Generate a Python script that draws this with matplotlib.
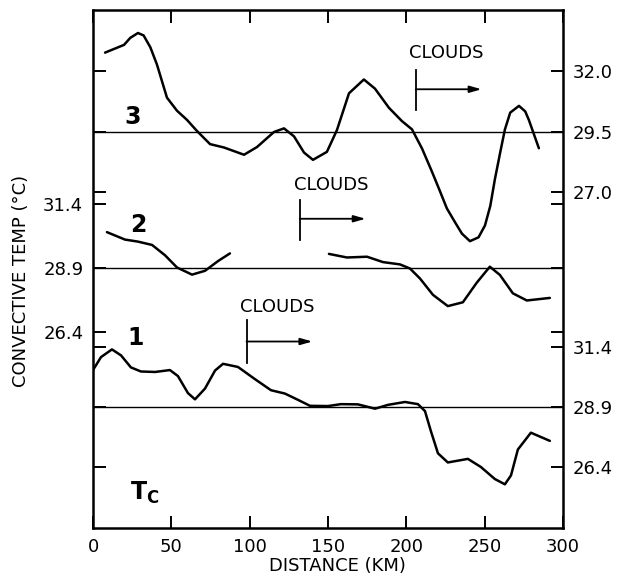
import matplotlib.pyplot as plt
import matplotlib.transforms as mtransforms

# trace 3 (top), baseline 29.5
dist3 = [7.7, 19.8, 23.8, 28.7, 32.3, 36.6, 40.8, 47.2, 53.6, 60.0, 66.4, 74.7,
         83.6, 96.4, 104.7, 115.5, 121.9, 128.3, 134.7, 140.4, 149.3, 155.7,
         163.4, 172.9, 180.0, 188.9, 197.2, 203.6, 210.0, 216.3, 220.8, 225.9,
         231.0, 235.5, 240.6, 246.1, 250.2, 253.6, 256.5, 259.9, 262.9, 266.3,
         271.9, 275.9, 278.2, 282.3, 284.6]
temp3 = [32.76, 33.08, 33.37, 33.57, 33.47, 32.98, 32.27, 30.90, 30.36, 29.98,
         29.52, 28.98, 28.84, 28.54, 28.86, 29.48, 29.63, 29.30, 28.63, 28.33,
         28.66, 29.56, 31.08, 31.65, 31.27, 30.48, 29.93, 29.59, 28.80, 27.85,
         27.14, 26.32, 25.76, 25.28, 24.97, 25.13, 25.62, 26.43, 27.52, 28.63,
         29.58, 30.28, 30.56, 30.33, 29.98, 29.23, 28.81]

# trace 2 (middle), baseline 28.9, two pieces
dist2a = [8.9, 20.4, 28.7, 37.7, 45.9, 53.6, 63.2, 71.5, 79.8, 87.4]
temp2a = [30.30, 30.01, 29.93, 29.80, 29.40, 28.92, 28.64, 28.79, 29.17, 29.47]
dist2b = [150.6, 162.1, 174.9, 185.1, 195.9, 202.3, 208.7, 217.0, 226.5, 236.1,
          245.0, 253.3, 259.7, 268.0, 276.9, 291.6]
temp2b = [29.45, 29.31, 29.34, 29.13, 29.04, 28.88, 28.49, 27.85, 27.41, 27.56,
          28.33, 28.95, 28.63, 27.91, 27.63, 27.73]

# trace 1 (bottom), baseline 28.9
dist1 = [0, 5.1, 12.1, 17.9, 24.2, 30.6, 39.6, 49.1, 54.2, 60.6, 65.1, 71.5,
         77.9, 83.0, 92.5, 103.4, 113.6, 122.5, 130.8, 138.5, 150.0, 158.3,
         169.1, 180.0, 188.3, 199.1, 207.4, 211.9, 215.7, 220.2, 226.5, 239.3,
         247.6, 256.5, 262.9, 266.8, 271.2, 279.5, 291.6]
temp1 = [30.44, 30.98, 31.30, 31.05, 30.55, 30.38, 30.36, 30.44, 30.19, 29.48,
         29.22, 29.67, 30.42, 30.70, 30.57, 30.06, 29.60, 29.46, 29.20, 28.95,
         28.94, 29.02, 29.01, 28.83, 28.99, 29.11, 29.02, 28.73, 27.89, 26.97,
         26.59, 26.74, 26.40, 25.90, 25.68, 26.05, 27.13, 27.83, 27.49]

baselines = {1: 28.9, 2: 28.9, 3: 29.5}
cloud_start = {1: 98, 2: 132, 3: 206}
xticks = [0, 50, 100, 150, 200, 250, 300]

plt.rcParams['font.family'] = ['DejaVu Sans']

fig = plt.figure(figsize=(6.18, 5.79), dpi=100)
rect = [0.1505, 0.0881, 0.7605, 0.8946]
ax1 = fig.add_axes(rect)
ax2 = fig.add_axes(rect)
ax3 = fig.add_axes(rect)

ylims = {1: (23.86, 45.44), 2: (18.74, 38.98), 3: (13.12, 34.52)}
label_side = {1: 'right', 2: 'left', 3: 'right'}

for k, ax in [(1, ax1), (2, ax2), (3, ax3)]:
    ax.set_xlim(0, 300)
    ax.set_ylim(*ylims[k])
    b = baselines[k]
    ax.set_yticks([b - 2.5, b, b + 2.5])
    ax.set_yticklabels([f"{v:.1f}" for v in [b - 2.5, b, b + 2.5]])
    ax.tick_params(axis='y', left=True, right=True, direction='in', length=9,
                   width=1.4, labelsize=13, pad=7,
                   labelleft=label_side[k] == 'left',
                   labelright=label_side[k] == 'right')
    ax.axhline(b, color='black', lw=1.0)
    if k != 1:
        ax.patch.set_visible(False)
        ax.xaxis.set_visible(False)
        for s in ax.spines.values():
            s.set_visible(False)

for s in ax1.spines.values():
    s.set_linewidth(1.8)
ax1.set_xticks(xticks)
ax1.tick_params(axis='x', top=True, bottom=True, direction='in', length=9,
                width=1.4, labelsize=13, pad=7)

line_kw = dict(color='black', lw=1.8, solid_joinstyle='round', solid_capstyle='round')
ax3.plot(dist3, temp3, **line_kw)
ax2.plot(dist2a, temp2a, **line_kw)
ax2.plot(dist2b, temp2b, **line_kw)
ax1.plot(dist1, temp1, **line_kw)

trans = mtransforms.blended_transform_factory(ax1.transData, ax1.transAxes)
# (trace, bar bottom, bar top, arrow y, text y)
cloud_marks = [(3, 0.807, 0.884, 0.847, 0.917),
               (2, 0.556, 0.633, 0.597, 0.662),
               (1, 0.319, 0.402, 0.360, 0.427)]
for k, y0, y1, ya, yt in cloud_marks:
    s = cloud_start[k]
    ax1.plot([s, s], [y0, y1], color='black', lw=1.3, transform=trans)
    ax1.annotate('', xy=(s + 42, ya), xytext=(s, ya), xycoords=trans, textcoords=trans,
                 arrowprops=dict(arrowstyle='-|>,head_length=0.7,head_width=0.2',
                                 color='black', lw=1.3, shrinkA=0, shrinkB=0))
    ax1.text(s - 4, yt, 'CLOUDS', transform=trans, fontsize=13, ha='left', va='center')

ax1.text(25, 0.793, '3', transform=trans, fontsize=17, fontweight='bold', ha='center', va='center')
ax1.text(28.7, 0.585, '2', transform=trans, fontsize=17, fontweight='bold', ha='center', va='center')
ax1.text(27, 0.367, '1', transform=trans, fontsize=17, fontweight='bold', ha='center', va='center')
ax1.text(33, 0.068, r'T$_\mathregular{C}$', transform=trans, fontsize=17, fontweight='bold',
         ha='center', va='center')

fig.text(337 / 618, 1 - 566 / 579, 'DISTANCE (KM)', fontsize=13, ha='center', va='center')
fig.text(21 / 618, 1 - 281 / 579, 'CONVECTIVE TEMP (°C)', fontsize=13, rotation=90,
         ha='center', va='center')

fig.savefig('out.png', dpi=100)
